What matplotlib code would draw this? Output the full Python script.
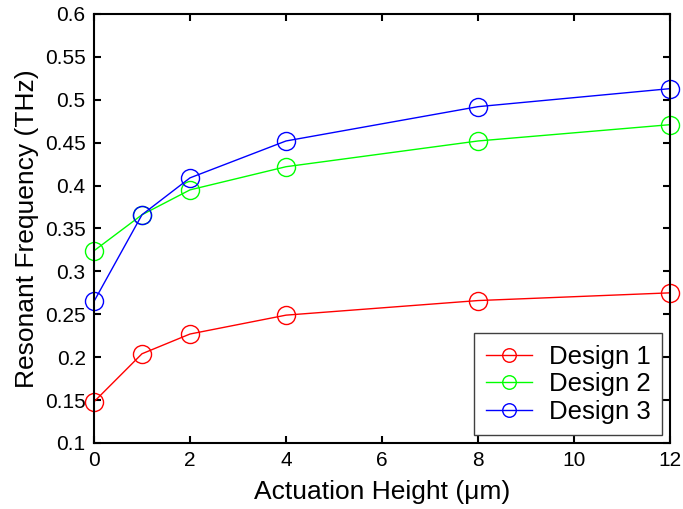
#Resonant frequency versus actuation height for three designs
import numpy as np
import matplotlib.pyplot as plt

plt.rcParams['font.family'] = ['Liberation Sans', 'DejaVu Sans']

# Data
height = [0, 1, 2, 4, 8, 12]
design1 = [0.148, 0.204, 0.227, 0.249, 0.266, 0.275]
design2 = [0.324, 0.366, 0.395, 0.422, 0.452, 0.471]
design3 = [0.265, 0.366, 0.409, 0.452, 0.492, 0.513]
labels = ['Design 1', 'Design 2', 'Design 3']
colors = ['#ff0000', '#00ff00', '#0000ff']

fig = plt.figure(figsize=(6.83, 5.09), dpi=100)
ax = fig.add_axes([0.1376, 0.1297, 0.8434, 0.8428])

for y, lab, c in zip([design1, design2, design3], labels, colors):
    ax.plot(height, y, color=c, lw=1, marker='o', ms=13, mfc='none',
            mec=c, mew=1, label=lab, clip_on=False)

ax.set_xlim(0, 12)
ax.set_ylim(0.1, 0.6)
ax.set_xticks(np.arange(0, 13, 2))
ax.set_yticks(np.arange(0.1, 0.601, 0.05))
ax.set_yticklabels(['0.1', '0.15', '0.2', '0.25', '0.3', '0.35', '0.4',
                    '0.45', '0.5', '0.55', '0.6'])
ax.tick_params(direction='in', top=True, right=True, labelsize=15,
               length=5, width=1.5, pad=6)
for s in ax.spines.values():
    s.set_linewidth(1.5)

ax.set_xlabel('Actuation Height (\u03bcm)', fontsize=19, labelpad=7)
ax.set_ylabel('Resonant Frequency (THz)', fontsize=19, labelpad=4)

leg = ax.legend(loc='lower right', fontsize=18.5, fancybox=False,
                edgecolor='#404040', framealpha=1, handlelength=1.8,
                handletextpad=0.65, borderpad=0.45, labelspacing=0.14,
                borderaxespad=0.3, markerscale=0.75)
leg.get_frame().set_linewidth(1)

plt.savefig('out.png', dpi=100)
